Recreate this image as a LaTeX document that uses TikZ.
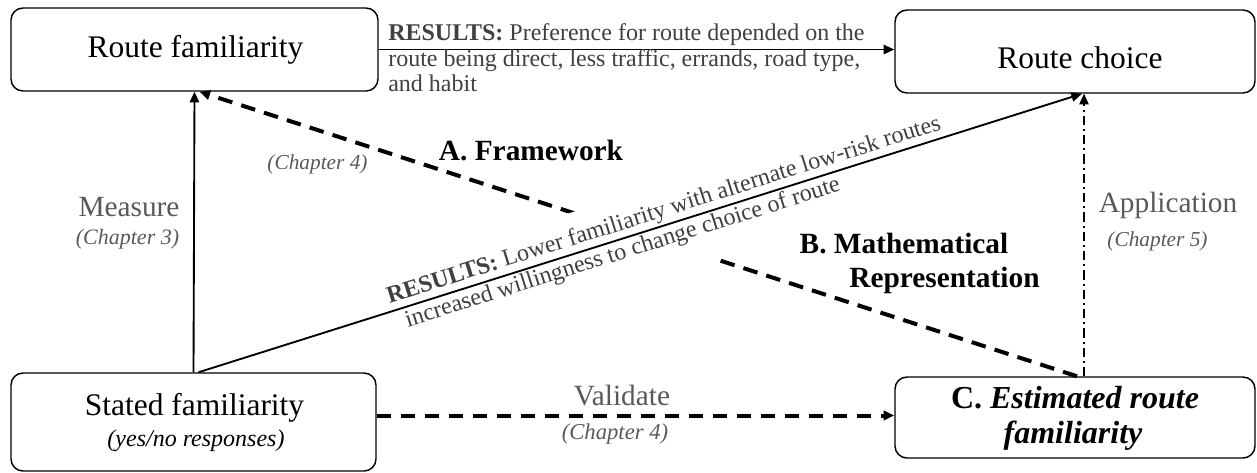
\documentclass[tikz,border=0pt]{standalone}
\usepackage{fontspec}
\setmainfont{Liberation Serif}
\usetikzlibrary{arrows.meta,calc}

\definecolor{txtgray}{HTML}{404040}
\definecolor{labgray}{HTML}{595959}

\begin{document}
\begin{tikzpicture}[x=0.75pt,y=-0.75pt,
  box/.style={draw, line width=1.1pt, rounded corners=9pt, inner sep=0pt},
  arr/.style={-{Triangle[length=8pt,width=7pt]}},
  solidline/.style={arr, line width=1.4pt},
  dashline/.style={arr, line width=3pt, dash pattern=on 11pt off 7pt},
  dashdot/.style={arr, line width=1.1pt, dash pattern=on 7pt off 3pt on 1.5pt off 3pt},
  title/.style={font=\fontsize{23.6}{28}\selectfont, anchor=base, inner sep=0pt},
  result/.style={font=\fontsize{18}{22}\selectfont, text=txtgray, inner sep=0pt},
  label/.style={font=\fontsize{22}{26}\selectfont, text=labgray, anchor=base, inner sep=0pt},
  chapter/.style={font=\fontsize{16}{19}\selectfont\itshape, text=labgray, anchor=base, inner sep=0pt},
  phase/.style={font=\fontsize{22}{26}\selectfont\bfseries, anchor=base, inner sep=0pt}
]
\useasboundingbox (0,0) rectangle (1257,472);

% boxes
\node[box, minimum width=275.25pt, minimum height=62.25pt] (rf) at (194.5,49.5) {};
\node[box, minimum width=270pt, minimum height=62.25pt] (rc) at (1075,51.5) {};
\node[box, minimum width=273.75pt, minimum height=73.5pt] (sf) at (193.5,422) {};
\node[box, minimum width=270pt, minimum height=60.75pt] (cb) at (1075,417.5) {};

% box texts
\node[title] (rft) at (195.5,57) {Route familiarity};
\node[title] (rct) at (1080,68) {Route choice};
\node[title] (sft) at (194.5,415) {Stated familiarity};
\node[font=\fontsize{18}{22}\selectfont\itshape, anchor=base, inner sep=0pt] (sfs) at (196,446) {(yes/no responses)};
\node[font=\fontsize{24}{28}\selectfont\bfseries, anchor=base, inner sep=0pt] (cbt) at (1075,408) {C.\ \textit{Estimated route}};
\node[font=\fontsize{24}{28}\selectfont\bfseries\itshape, anchor=base, inner sep=0pt] (cbs) at (1073,443) {familiarity};

% connectors
\draw[solidline] (rf.east) -- (rf.east -| rc.west);
\draw[solidline] (sf.north) -- (rf.south);
\draw[dashline] ($(cb.north)+(2,0)$) -- ($(rf.south)+(5,0)$);
\draw[dashdot] ($(cb.north)+(9,0)$) -- ($(rc.south)+(9,0)$);
\draw[dashline] ($(sf.east |- cb.west)+(0,-2)$) -- ($(cb.west)+(0,-2)$);

% results along the diagonal, on white so the dashed line breaks behind them
\path ($(sf.north)+(5,0)$) -- ($(rc.south)+(7,0)$)
  node[result, sloped, pos=0.216, anchor=south west, fill=white, inner xsep=2pt, inner ysep=2pt,
       text height=22pt, text depth=4pt] (dtop)
    {\textbf{RESULTS:} Lower familiarity with alternate low-risk routes}
  node[result, sloped, pos=0.227, anchor=north west, fill=white, inner xsep=2pt, inner ysep=2pt,
       text depth=20pt] (dbot)
    {increased willingness to change choice of route};
\draw[solidline] ($(sf.north)+(5,0)$) -- ($(rc.south)+(7,0)$);

% results along the top arrow
\node[result, anchor=base west] (r1) at (388,40) {\textbf{RESULTS:} Preference for route depended on the};
\node[result, anchor=base west] (r2) at (388,66) {route being direct, less traffic, errands, road type,};
\node[result, anchor=base west] (r3) at (388,91) {and habit};

% labels
\node[label] (meas) at (129,216) {Measure};
\node[chapter, font=\fontsize{16.5}{19}\selectfont\itshape] (ch3) at (127.5,244) {(Chapter 3)};
\node[chapter] (ch4a) at (317.5,169) {(Chapter 4)};
\node[phase] (pa) at (531,160) {A. Framework};
\node[phase] (pb1) at (904,253) {B. Mathematical};
\node[phase] (pb2) at (944.5,287) {Representation};
\node[label] (appl) at (1168,212) {Application};
\node[chapter] (ch5) at (1157.5,246) {(Chapter 5)};
\node[label] (vali) at (622,405) {Validate};
\node[chapter, font=\fontsize{17}{20}\selectfont\itshape] (ch4b) at (615,439) {(Chapter 4)};
\end{tikzpicture}
\end{document}
